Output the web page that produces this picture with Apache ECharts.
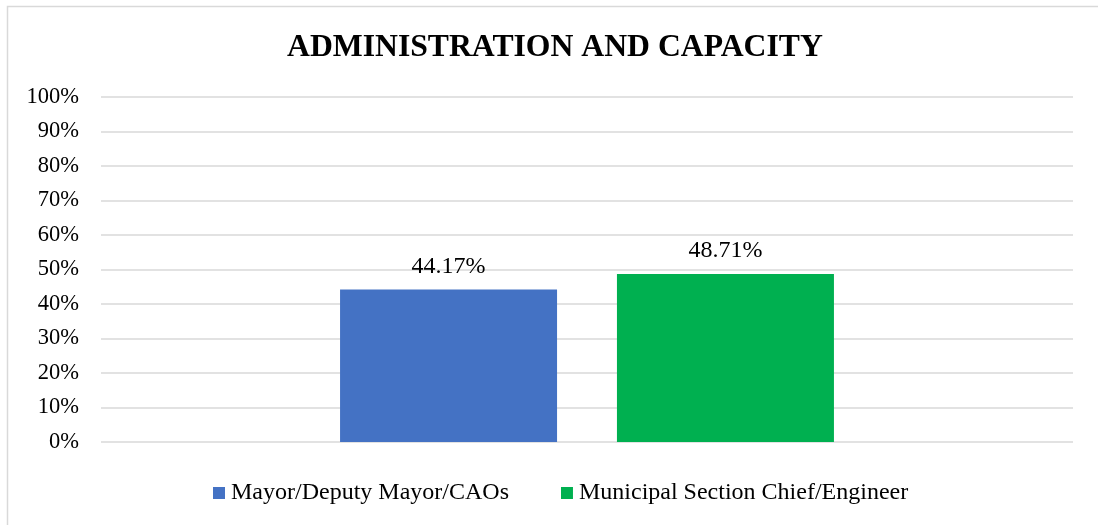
<!DOCTYPE html>
<html>
<head>
<meta charset="utf-8">
<script src="https://cdn.jsdelivr.net/npm/echarts@6/dist/echarts.min.js"></script>
<style>
  html, body { margin: 0; padding: 0; background: #ffffff; }
  #chart { width: 1098px; height: 525px; }
</style>
</head>
<body>
<div id="chart"></div>
<script>
// Chart data
const categories = ['Administration and Capacity'];
const seriesNames = ['Mayor/Deputy Mayor/CAOs', 'Municipal Section Chief/Engineer'];
const mayorValues = [44.17];
const chiefValues = [48.71];
const yTicks = [0, 10, 20, 30, 40, 50, 60, 70, 80, 90, 100];

const FONT = '"Liberation Serif", "Times New Roman", serif';
const chart = echarts.init(document.getElementById('chart'), null, { renderer: 'canvas' });

const valueLabel = {
  show: true, position: 'top', distance: 11,
  formatter: p => p.value.toFixed(2) + '%',
  fontFamily: FONT, fontSize: 24, color: '#000000'
};

chart.setOption({
  backgroundColor: '#ffffff',
  animation: false,
  title: {
    text: 'ADMINISTRATION AND CAPACITY',
    left: 282,
    top: 27,
    textStyle: { fontFamily: FONT, fontSize: 31.7, fontWeight: 'bold', color: '#000000' }
  },
  graphic: [{
    type: 'rect',
    shape: { x: 7.5, y: 6.5, width: 1100, height: 530 },
    style: { fill: 'none', stroke: '#d9d9d9', lineWidth: 1.5 },
    silent: true
  }],
  legend: {
    bottom: 15,
    left: 208,
    itemWidth: 12,
    itemHeight: 12,
    itemGap: 52,
    icon: 'rect',
    textStyle: { fontFamily: FONT, fontSize: 24, color: '#000000', padding: [0, 0, 0, 1] },
    data: seriesNames
  },
  grid: { left: 101, right: 25, top: 97, bottom: 83, containLabel: false },
  xAxis: {
    type: 'category',
    data: categories,
    axisLine: { show: false },
    axisTick: { show: false },
    axisLabel: { show: false }
  },
  yAxis: {
    type: 'value',
    min: yTicks[0],
    max: yTicks[yTicks.length - 1],
    interval: yTicks[1] - yTicks[0],
    axisLine: { show: false },
    axisTick: { show: false },
    splitLine: { lineStyle: { color: '#d9d9d9', width: 1.5 } },
    axisLabel: {
      margin: 22,
      formatter: v => v + '%',
      fontFamily: FONT, fontSize: 22.5, color: '#000000'
    }
  },
  series: [
    {
      name: seriesNames[0],
      type: 'bar',
      data: mayorValues,
      barWidth: 217,
      barGap: '27.6%',
      itemStyle: { color: '#4472C4' },
      label: valueLabel
    },
    {
      name: seriesNames[1],
      type: 'bar',
      data: chiefValues,
      barWidth: 217,
      barGap: '27.6%',
      itemStyle: { color: '#00B050' },
      label: valueLabel
    }
  ]
});
</script>
</body>
</html>
